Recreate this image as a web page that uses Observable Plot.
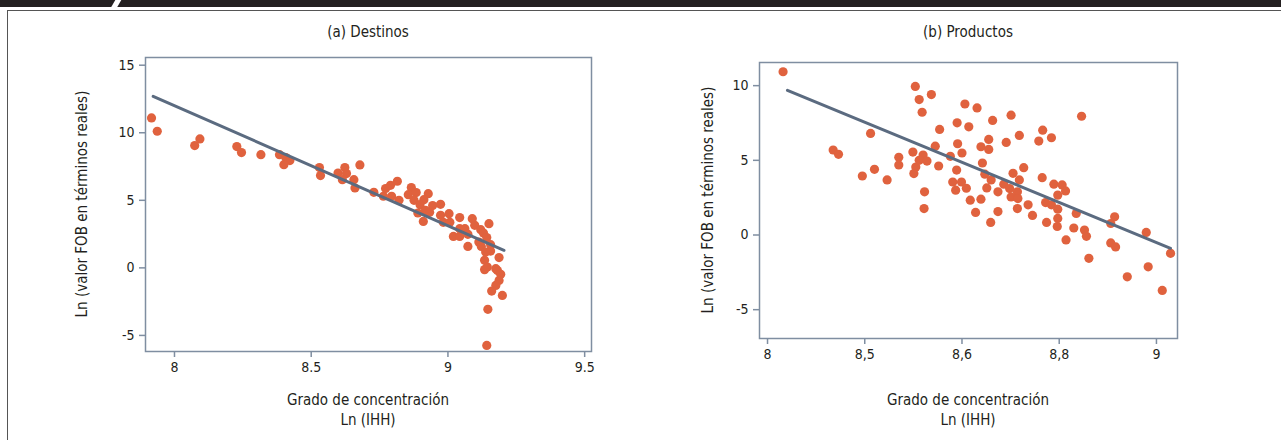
<!DOCTYPE html>
<html><head><meta charset="utf-8">
<script src="https://cdn.jsdelivr.net/npm/d3@7"></script>
<script src="https://cdn.jsdelivr.net/npm/@observablehq/plot@0.6"></script>
<style>
html,body{margin:0;padding:0;background:#fff;}
body{width:1281px;height:440px;overflow:hidden;position:relative;font-family:"Liberation Sans Narrow","DejaVu Sans Condensed","Roboto Condensed","Liberation Sans",sans-serif;color:#231f20;}
#topbar{position:absolute;left:0;top:0;width:1281px;height:7px;background:#231f20;overflow:hidden;}
#slash{position:absolute;left:113px;top:-2px;width:6px;height:12px;background:#fff;transform:skewX(-30deg);}
#box{position:absolute;left:7px;top:10px;width:1300px;height:440px;border-left:1.5px solid #555;border-top:1.5px solid #555;}
.lbl{position:absolute;white-space:nowrap;font-size:15px;transform:translate(-50%,-50%);}
.ylab{transform:translate(-50%,-50%) rotate(-90deg);}
.panel{position:absolute;top:0;}
</style></head>
<body>
<div id="topbar"><div id="slash"></div></div>
<div id="box"></div>
<div id="left" class="panel" style="left:0px"></div>
<div id="right" class="panel" style="left:640px"></div>
<div class="lbl" style="left:368px;top:32px">(a) Destinos</div>
<div class="lbl" style="left:968px;top:32px">(b) Productos</div>
<div class="lbl ylab" style="left:82px;top:204px">Ln (valor FOB en términos reales)</div>
<div class="lbl ylab" style="left:708px;top:200px">Ln (valor FOB en términos reales)</div>
<div class="lbl" style="left:368px;top:400px">Grado de concentración</div>
<div class="lbl" style="left:368px;top:420px">Ln (IHH)</div>
<div class="lbl" style="left:968px;top:400px">Grado de concentración</div>
<div class="lbl" style="left:968px;top:420px">Ln (IHH)</div>
<script>
// (a) Destinos
const destX = [7.916,7.937,8.074,8.093,8.228,8.245,8.316,8.384,8.407,8.422,8.400,8.530,8.534,8.598,8.623,8.629,8.614,8.678,8.656,8.660,8.729,8.764,8.772,8.790,8.794,8.815,8.821,8.866,8.855,8.884,8.876,8.928,8.912,8.898,8.918,8.933,8.890,8.910,8.944,8.973,8.973,9.004,8.983,9.007,9.043,9.020,9.043,9.043,9.062,9.089,9.098,9.073,9.073,9.120,9.130,9.150,9.142,9.113,9.122,9.156,9.156,9.138,9.187,9.134,9.144,9.175,9.134,9.181,9.193,9.187,9.175,9.160,9.199,9.146,9.142];
const destY = [11.10,10.11,9.05,9.54,8.98,8.53,8.38,8.38,8.16,7.94,7.64,7.42,6.83,7.02,7.42,6.98,6.53,7.62,6.53,5.91,5.59,5.30,5.87,6.11,5.30,6.41,5.00,5.94,5.42,5.57,5.00,5.49,5.05,4.68,4.26,4.11,4.06,3.44,4.61,4.70,3.89,4.01,3.37,3.37,3.72,2.33,2.33,2.90,2.90,3.64,3.15,2.48,1.59,2.83,2.58,3.27,2.24,1.91,1.59,1.72,1.24,1.17,0.76,0.56,0.06,-0.06,-0.13,-0.19,-0.48,-0.93,-1.30,-1.72,-2.04,-3.07,-5.74];
const destFitX = [7.922, 9.205];
const destFitY = [12.70, 1.30];
const destXTicks = [8, 8.5, 9, 9.5];
const destXTickLabels = ["8", "8.5", "9", "9.5"];
const destYTicks = [-5, 0, 5, 10, 15];

// (b) Productos
const prodX = [8.232,8.335,8.346,8.412,8.395,8.420,8.446,8.470,8.470,8.499,8.504,8.512,8.518,8.537,8.505,8.501,8.520,8.512,8.528,8.523,8.522,8.545,8.554,8.552,8.576,8.581,8.587,8.589,8.590,8.591,8.599,8.600,8.606,8.614,8.609,8.617,8.628,8.631,8.663,8.701,8.846,8.639,8.655,8.655,8.691,8.718,8.766,8.758,8.784,8.642,8.647,8.639,8.651,8.660,8.659,8.674,8.674,8.686,8.698,8.705,8.718,8.727,8.714,8.701,8.715,8.714,8.736,8.745,8.765,8.774,8.772,8.784,8.789,8.806,8.813,8.797,8.797,8.797,8.796,8.835,8.830,8.814,8.852,8.856,8.861,8.906,8.914,8.906,8.916,8.940,8.979,8.983,9.012,9.029];
const prodY = [10.93,5.69,5.40,6.80,3.95,4.40,3.69,5.20,4.69,5.55,9.95,9.07,8.22,9.40,4.55,4.11,5.35,5.00,4.95,2.89,1.77,5.95,7.07,4.62,5.27,3.55,3.00,4.35,7.51,6.11,3.55,5.49,8.77,7.24,3.13,2.33,1.51,8.51,7.67,8.02,7.95,5.91,6.40,5.73,6.20,6.67,7.02,6.29,6.51,4.82,4.07,2.40,3.15,3.69,0.84,2.89,1.57,3.40,3.11,4.13,3.69,4.51,2.89,2.55,2.44,1.77,2.02,1.31,3.84,0.84,2.17,2.02,3.40,3.35,2.95,2.67,1.73,1.11,0.57,1.44,0.47,-0.33,0.33,-0.09,-1.56,0.77,1.22,-0.53,-0.80,-2.80,0.17,-2.13,-3.71,-1.23];
const prodFitX = [8.241, 9.029];
const prodFitY = [9.69, -0.89];
const prodXTicks = [8.2, 8.4, 8.6, 8.8, 9];
const prodXTickLabels = ["8", "8,5", "8,6", "8,8", "9"];
const prodYTicks = [-5, 0, 5, 10];

const DOT = "#e0623e", LINE = "#5b6b80", FRAME = "#7f8ea1";
const FONT = '"Liberation Sans Narrow","DejaVu Sans Condensed","Roboto Condensed","Liberation Sans",sans-serif';

function panel(opts) {
  const pts = opts.xs.map((x, i) => ({x, y: opts.ys[i]}));
  const fit = opts.fx.map((x, i) => ({x, y: opts.fy[i]}));
  return Plot.plot({
    width: opts.width, height: 440,
    marginLeft: opts.ml, marginRight: opts.mr, marginTop: opts.mt, marginBottom: opts.mb,
    style: {background: "transparent", fontSize: "14px", fontFamily: FONT, color: "#231f20"},
    x: {domain: opts.xd},
    y: {domain: opts.yd},
    marks: [
      Plot.dot(pts, {x: "x", y: "y", r: 4.6, fill: DOT, stroke: "none"}),
      Plot.line(fit, {x: "x", y: "y", stroke: LINE, strokeWidth: 3}),
      Plot.frame({stroke: FRAME, strokeWidth: 1.5}),
      Plot.axisX(opts.xt, {tickSize: 6, tickPadding: 5, stroke: FRAME, strokeWidth: 1.5, label: null,
        tickFormat: d => opts.xl[opts.xt.indexOf(d)]}),
      Plot.axisY(opts.yt, {tickSize: 6, tickPadding: 5, stroke: FRAME, strokeWidth: 1.5, label: null,
        tickFormat: d => String(d)})
    ]
  });
}

document.getElementById("left").append(panel({
  xs: destX, ys: destY, fx: destFitX, fy: destFitY,
  width: 640, ml: 145, mr: 49, mt: 57, mb: 89,
  xd: [7.894, 9.525], yd: [-6.19, 15.57],
  xt: destXTicks, xl: destXTickLabels, yt: destYTicks
}));
document.getElementById("right").append(panel({
  xs: prodX, ys: prodY, fx: prodFitX, fy: prodFitY,
  width: 641, ml: 119, mr: 104, mt: 62, mb: 102,
  xd: [8.1835, 9.0433], yd: [-6.93, 11.55],
  xt: prodXTicks, xl: prodXTickLabels, yt: prodYTicks
}));
</script>
</body></html>
